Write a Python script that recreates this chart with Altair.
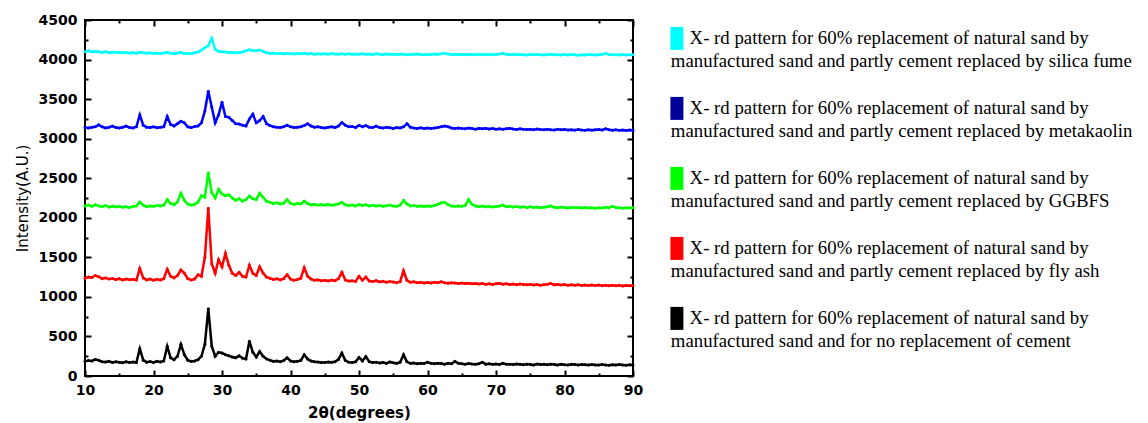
import altair as alt
import pandas as pd

# 2-theta sampling (degrees)
two_theta = [10 + 0.5 * i for i in range(161)]

cyan = [
4100,4110,4095,4105,4098,4090,4100,4085,4095,4088,
4092,4085,4090,4082,4088,4080,4092,4085,4080,4086,
4078,4084,4076,4082,4090,4080,4075,4082,4088,4078,
4080,4074,4085,4095,4120,4150,4175,4270,4130,4105,
4100,4095,4088,4092,4085,4090,4095,4110,4125,4110,
4115,4120,4105,4085,4078,4082,4075,4080,4072,4078,
4074,4070,4076,4072,4078,4070,4075,4068,4074,4070,
4072,4068,4075,4070,4066,4072,4068,4074,4066,4070,
4068,4074,4066,4070,4065,4072,4068,4064,4070,4066,
4068,4063,4070,4066,4062,4068,4064,4070,4065,4062,
4068,4064,4070,4066,4072,4080,4070,4065,4068,4063,
4066,4062,4068,4064,4060,4066,4062,4068,4064,4060,
4066,4070,4075,4068,4062,4066,4060,4065,4062,4058,
4064,4060,4066,4062,4058,4064,4068,4060,4062,4058,
4063,4058,4064,4060,4056,4062,4058,4064,4060,4057,
4062,4066,4075,4065,4060,4062,4057,4063,4059,4062,
4060]

blue = [
3140,3135,3145,3150,3175,3150,3135,3145,3160,3140,
3135,3145,3160,3140,3135,3150,3300,3170,3145,3140,
3150,3138,3145,3150,3280,3180,3160,3190,3220,3200,
3150,3140,3155,3160,3200,3350,3600,3400,3200,3300,
3460,3280,3270,3230,3190,3185,3170,3160,3250,3310,
3200,3230,3280,3190,3165,3150,3145,3140,3150,3170,
3150,3140,3145,3150,3165,3190,3160,3145,3150,3140,
3135,3145,3150,3140,3160,3205,3170,3150,3155,3140,
3170,3150,3165,3145,3140,3160,3140,3135,3145,3138,
3130,3140,3135,3150,3190,3145,3135,3130,3138,3130,
3135,3128,3136,3140,3150,3160,3150,3135,3128,3134,
3130,3125,3135,3128,3120,3130,3124,3130,3122,3128,
3120,3126,3118,3124,3130,3122,3116,3124,3118,3115,
3120,3114,3122,3116,3112,3120,3114,3110,3118,3112,
3116,3110,3114,3108,3115,3110,3106,3113,3108,3112,
3115,3110,3125,3112,3106,3112,3105,3110,3104,3110,
3106]

green = [
2150,2160,2145,2165,2150,2140,2155,2135,2148,2138,
2145,2132,2140,2130,2142,2150,2200,2160,2140,2150,
2145,2155,2148,2160,2230,2180,2165,2200,2310,2220,
2175,2160,2170,2200,2280,2260,2570,2320,2250,2360,
2300,2280,2290,2250,2220,2240,2210,2230,2275,2240,
2230,2310,2260,2210,2195,2180,2190,2175,2185,2230,
2185,2170,2180,2175,2210,2180,2165,2172,2160,2168,
2160,2170,2158,2165,2175,2195,2165,2155,2162,2150,
2170,2155,2165,2150,2158,2148,2155,2145,2152,2160,
2150,2145,2160,2220,2175,2150,2155,2145,2150,2142,
2150,2145,2155,2170,2190,2195,2165,2150,2145,2150,
2145,2155,2230,2170,2150,2140,2148,2138,2145,2135,
2142,2150,2160,2140,2145,2135,2142,2132,2140,2130,
2138,2130,2136,2128,2134,2140,2150,2132,2128,2135,
2130,2125,2132,2126,2130,2124,2130,2125,2128,2122,
2128,2124,2132,2126,2145,2130,2126,2122,2128,2124,
2126]

red = [
1235,1250,1245,1270,1255,1230,1240,1225,1232,1220,
1228,1215,1225,1218,1222,1212,1360,1240,1215,1225,
1210,1222,1215,1230,1350,1260,1240,1270,1340,1300,
1230,1215,1225,1280,1260,1500,2120,1420,1300,1470,
1380,1550,1400,1300,1270,1310,1260,1250,1400,1300,
1270,1380,1300,1250,1235,1220,1230,1215,1230,1280,
1225,1210,1220,1235,1370,1260,1225,1210,1215,1205,
1210,1200,1212,1205,1230,1310,1215,1200,1205,1195,
1260,1210,1250,1200,1195,1205,1190,1198,1185,1195,
1188,1180,1192,1330,1210,1185,1190,1178,1185,1175,
1182,1175,1185,1178,1190,1180,1172,1180,1175,1168,
1175,1168,1172,1165,1170,1162,1168,1160,1166,1158,
1165,1172,1160,1166,1158,1163,1155,1162,1157,1152,
1158,1150,1156,1148,1155,1160,1168,1152,1158,1150,
1155,1148,1153,1146,1152,1145,1150,1143,1149,1144,
1150,1142,1148,1140,1146,1141,1147,1139,1145,1140,
1143]

black = [
185,195,190,210,198,180,176,185,172,180,
175,168,180,172,178,170,345,200,175,182,
170,185,178,190,375,230,205,250,400,270,
200,185,190,205,250,400,850,380,250,300,
290,270,255,240,230,255,225,215,440,300,
240,310,250,215,200,185,190,180,195,230,
190,180,185,195,270,215,190,180,178,172,
170,178,175,180,210,290,195,175,170,180,
235,190,245,180,170,175,165,172,160,178,
168,160,175,270,180,160,165,155,162,158,
175,160,155,162,158,150,160,155,185,160,
155,150,158,152,148,155,175,150,155,148,
152,145,160,148,150,145,152,148,142,150,
145,140,152,145,148,142,150,145,140,148,
142,138,148,145,140,146,142,138,145,140,
138,145,140,136,142,138,144,140,136,142,
140]

first_line = "\u200b\u2003X- rd pattern for 60% replacement of natural sand by"
second_lines = [
    "manufactured sand and partly cement replaced by silica fume",
    "manufactured sand and partly cement replaced by metakaolin",
    "manufactured sand and partly cement replaced by GGBFS",
    "manufactured sand and partly cement replaced by fly ash",
    "manufactured sand and for no replacement of cement",
]
series_keys = [first_line + "|" + s for s in second_lines]
line_colors = ["#00FFFF", "#0000FF", "#00FF00", "#FF0000", "#000000"]
swatch_colors = ["#00FFFF", "#000099", "#00FF00", "#FF0000", "#000000"]

x_major = [10, 20, 30, 40, 50, 60, 70, 80, 90]
x_minor = [15, 25, 35, 45, 55, 65, 75, 85]
y_major = [0, 500, 1000, 1500, 2000, 2500, 3000, 3500, 4000, 4500]
y_minor = [250, 750, 1250, 1750, 2250, 2750, 3250, 3750, 4250]

series_values = [cyan, blue, green, red, black]
for v in series_values:
    assert len(v) == len(two_theta)

rows = []
for key, vals in zip(series_keys, series_values):
    for x, y in zip(two_theta, vals):
        rows.append({"two_theta": x, "intensity": y, "series": key})
df = pd.DataFrame(rows)

xs = alt.Scale(domain=[10, 90], nice=False, zero=False)
ys = alt.Scale(domain=[0, 4500], nice=False, zero=False)


def ax(orient, values, offset, size, **kw):
    base = dict(orient=orient, values=values, offset=offset, tickSize=size,
                domain=False, grid=False, ticks=True, tickColor="black",
                tickWidth=2)
    base.update(kw)
    return alt.Axis(**base)


label_kw = dict(labelFont="DejaVu Sans", labelFontSize=14, labelFontWeight="bold",
                labelColor="black", labelFlush=False, labelOverlap=False, format="d")

lines = alt.Chart(df).mark_line(
    strokeWidth=2.5, point=alt.OverlayMarkDef(filled=True, size=9, opacity=1)
).encode(
    x=alt.X("two_theta:Q", scale=xs,
            axis=ax("bottom", x_major, -6, 6, labelPadding=7, title="2θ(degrees)",
                    titleFont="DejaVu Sans", titleFontSize=15, titleFontWeight="bold",
                    titlePadding=8, titleColor="black", **label_kw)),
    y=alt.Y("intensity:Q", scale=ys,
            axis=ax("left", y_major, -6, 6, labelPadding=8, title="Intensity(A.U.)",
                    titleFont="DejaVu Sans", titleFontSize=15, titleFontWeight="normal",
                    titlePadding=8, titleColor="black", **label_kw)),
    color=alt.Color("series:N", scale=alt.Scale(domain=series_keys, range=line_colors),
                    legend=None),
)


def tick_layer(xorient, yorient, xvals, yvals, off, size):
    return alt.Chart(df).transform_filter("false").mark_point(opacity=0).encode(
        x=alt.X("two_theta:Q", scale=xs,
                axis=ax(xorient, xvals, off, size, labels=False, title=None)),
        y=alt.Y("intensity:Q", scale=ys,
                axis=ax(yorient, yvals, off, size, labels=False, title=None)),
    )


minor_lb = tick_layer("bottom", "left", x_minor, y_minor, -3, 3)
major_tr = tick_layer("top", "right", x_major, y_major, -6, 6)
minor_tr = tick_layer("top", "right", x_minor, y_minor, -3, 3)

legend_layer = alt.Chart(df).transform_filter("false").mark_square(opacity=1).encode(
    color=alt.Color(
        "series:N",
        scale=alt.Scale(domain=series_keys, range=swatch_colors),
        legend=alt.Legend(
            title=None, orient="none", legendX=567, legendY=9, direction="vertical",
            symbolType="M9,-11.5h13v23h-13z", symbolSize=4, symbolStrokeWidth=0,
            symbolOpacity=1, labelFont="Liberation Serif", labelFontSize=18.8,
            labelColor="black", labelLimit=700, labelOffset=0, rowPadding=24,
            padding=0, labelExpr="split(datum.label, '|')",
        ),
    )
)

chart = (
    alt.layer(lines, minor_lb, major_tr, minor_tr, legend_layer)
    .resolve_scale(color="independent")
    .resolve_axis(x="independent", y="independent")
    .properties(
        width=548, height=356,
        padding={"left": 77, "top": 12, "right": 507, "bottom": 47},
        autosize=alt.AutoSizeParams(type="none"),
        background="white",
    )
    .configure(
        view=alt.ViewConfig(stroke="black", strokeWidth=2),
        style={"guide-label": {"lineHeight": 23}},
    )
)

chart.save("out.html", embed_options={"renderer": "svg", "actions": False})
